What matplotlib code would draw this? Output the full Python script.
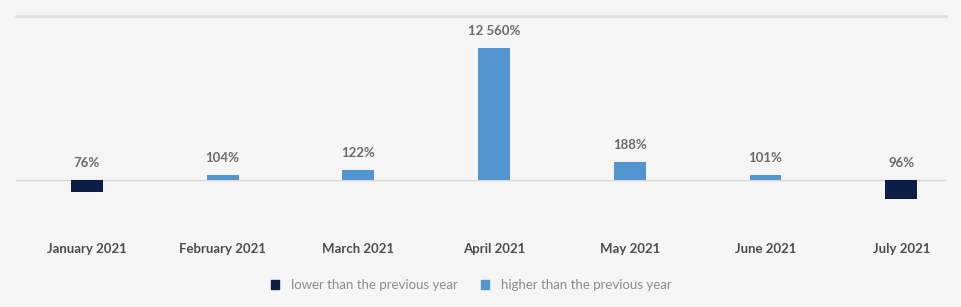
import numpy as np
import matplotlib.pyplot as plt
from matplotlib.patches import Patch

months = ["January 2021", "February 2021", "March 2021", "April 2021",
          "May 2021", "June 2021", "July 2021"]
pct_labels = ["76%", "104%", "122%", "12 560%", "188%", "101%", "96%"]
# bar heights as drawn in the reference (not proportional to the labels)
bar_height = [-11.7, 5, 10, 132, 18, 5, -18.7]
lower = [True, False, False, False, False, False, True]

navy = "#0c1e47"
blue = "#5295cf"
bg = "#f5f5f5"

plt.rcParams['font.family'] = ['Lato', 'DejaVu Sans']

fig = plt.figure(figsize=(9.62, 3.07), dpi=100, facecolor=bg)
ax = fig.add_axes([16/962, 1 - 215/307, (946-16)/962, (215-15.5)/307])
ax.set_facecolor(bg)

x = np.arange(len(months))
colors = [navy if l else blue for l in lower]
ax.bar(x, bar_height, width=0.235, color=colors, zorder=3)

ax.set_xlim(-0.523, 6.33)
ax.set_ylim(-35, 164.5)
ax.axhline(0, color="#d6d6d6", lw=1, zorder=2)
ax.axhline(164.5, color="#e0e0e0", lw=2, zorder=2, clip_on=False)

for xi, h, lab in zip(x, bar_height, pct_labels):
    ax.annotate(lab, (xi, max(h, 0)), xytext=(0, 12.5), textcoords="offset points",
                ha="center", va="center", fontsize=9.5, fontweight="bold",
                color="#6b6b6b")

for s in ax.spines.values():
    s.set_visible(False)
ax.set_yticks([])
ax.set_xticks(x)
ax.set_xticklabels(months, fontsize=9.5, fontweight="bold", color="#4d4d4d")
ax.tick_params(axis="x", length=0, pad=20)

handles = [Patch(color=navy, label="lower than the previous year"),
           Patch(color=blue, label="higher than the previous year")]
leg = fig.legend(handles=handles, loc="center", bbox_to_anchor=(0.49, 1 - 285/307),
                 ncol=2, frameon=False, fontsize=9.5, handlelength=0.6,
                 handleheight=0.6, handletextpad=0.9, columnspacing=1.8)
for t in leg.get_texts():
    t.set_color("#8c8c8c")

fig.savefig("out.png", dpi=100, facecolor=bg)
